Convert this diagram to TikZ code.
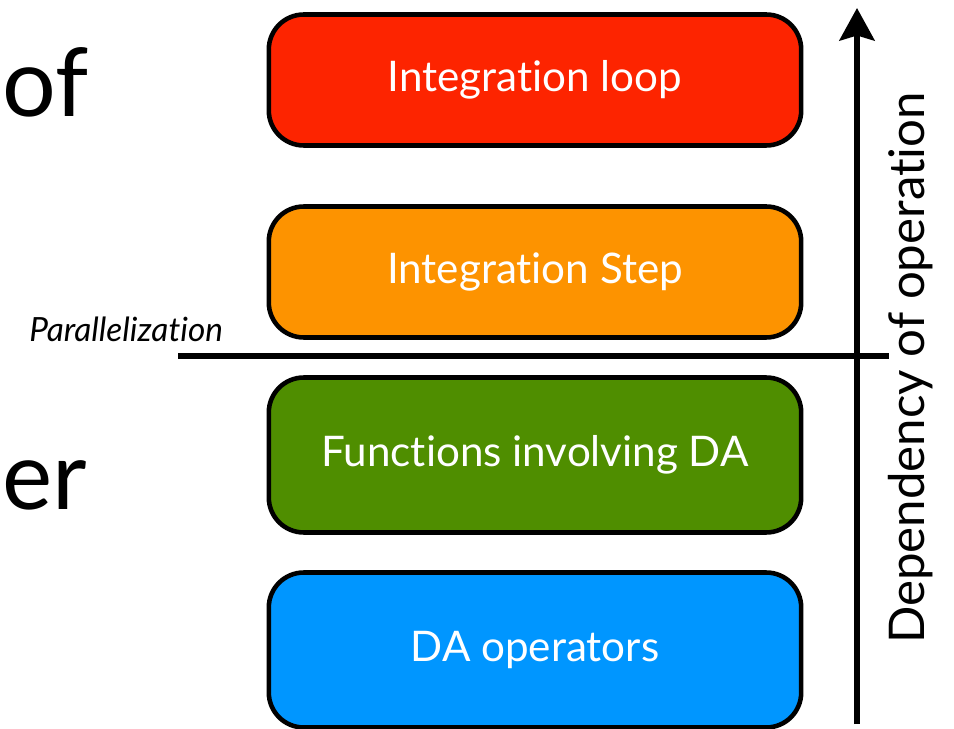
\documentclass[tikz,border=0pt]{standalone}
\usepackage{fontspec}
\setmainfont{Lato}[Ligatures=NoCommon]
\usetikzlibrary{arrows.meta,positioning}
\definecolor{LoopRed}{HTML}{FD2400}
\definecolor{StepOrange}{HTML}{FD9300}
\definecolor{FuncGreen}{HTML}{4F8E00}
\definecolor{OpsBlue}{HTML}{0096FF}

\begin{document}
\begin{tikzpicture}[x=0.02cm,y=-0.02cm,every node/.style={text=black},layer/.style={rounded corners=0.7cm,draw=black,line width=2.6pt,minimum width=10.65cm,align=center,text=white,font=\fontsize{24}{29}\selectfont},bigword/.style={font=\fontsize{54}{60}\selectfont,inner sep=0pt},thickline/.style={line width=3.4pt,draw=black}]
\useasboundingbox (0,0) rectangle (954,729);
\node[bigword,anchor=base west] (of) at (2,117) {of};
\node[bigword,anchor=base west] (er) at (2,510) {er};
\node[layer,fill=LoopRed,minimum height=2.62cm] (loop) at (535,80) {Integration loop};
\node[layer,fill=StepOrange,minimum height=2.62cm] (istep) at (535,272) {Integration Step};
\node[layer,fill=FuncGreen,minimum height=3.1cm] (func) at (535,455) {Functions involving DA};
\node[layer,fill=OpsBlue,minimum height=3.1cm] (ops) at (535,650) {DA operators};
\coordinate (parL) at (178,356);
\coordinate (parR) at (889,356);
\draw[thickline] (parL) -- (parR);
\node[font=\itshape\fontsize{19}{23}\selectfont,anchor=base west,inner sep=0pt] (par) at (29,342) {Parallelization};
\coordinate (depB) at (857,724);
\coordinate (depT) at (857,8);
\draw[thickline,-{Stealth[length=0.65cm,width=0.7cm,inset=0.1cm]}] (depB) -- (depT);
\node[rotate=90,font=\fontsize{28}{32}\selectfont,inner sep=0pt] (dep) at (911,368) {Dependency of operation};
\end{tikzpicture}
\end{document}
